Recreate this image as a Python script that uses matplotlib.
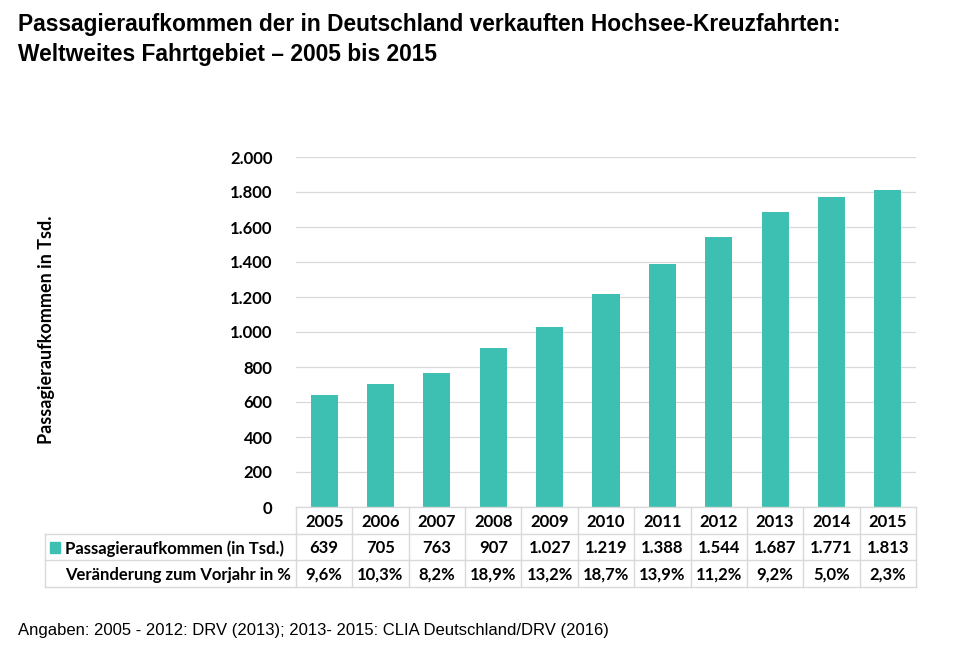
import matplotlib
matplotlib.use("Agg")
import matplotlib.pyplot as plt
from matplotlib.patches import Rectangle

years = ["2005", "2006", "2007", "2008", "2009", "2010", "2011", "2012", "2013", "2014", "2015"]
passengers = [639, 705, 763, 907, 1027, 1219, 1388, 1544, 1687, 1771, 1813]
passenger_labels = ["639", "705", "763", "907", "1.027", "1.219", "1.388", "1.544", "1.687", "1.771", "1.813"]
change_labels = ["9,6%", "10,3%", "8,2%", "18,9%", "13,2%", "18,7%", "13,9%", "11,2%", "9,2%", "5,0%", "2,3%"]
yticks = [0, 200, 400, 600, 800, 1000, 1200, 1400, 1600, 1800, 2000]
ytick_labels = ["0", "200", "400", "600", "800", "1.000", "1.200", "1.400", "1.600", "1.800", "2.000"]

TEAL = "#3dbfb1"
GRID = "#d9d9d9"
TFONT = ["Lato", "DejaVu Sans"]
FS = 12

W, H = 959, 661
fig = plt.figure(figsize=(W / 100, H / 100), dpi=100, facecolor="white")

def fx(px): return px / W
def fy(py): return 1 - py / H

# plot area in pixels
PL, PR, PT, PB = 296, 916, 157, 507
TB = 587
LBL = 45

ax = fig.add_axes([fx(PL), fy(PB), fx(PR) - fx(PL), fy(PT) - fy(PB)])
n = len(years)
xs = list(range(n))
ax.bar(xs, passengers, width=0.48, color=TEAL, zorder=3)
ax.set_xlim(-0.5, n - 0.5)
ax.set_ylim(0, 2000)
ax.set_yticks(yticks)
ax.set_yticklabels(ytick_labels, fontsize=FS, fontweight="bold", family=TFONT)
ax.tick_params(axis="y", length=0, pad=17)
ax.set_xticks([])
ax.yaxis.grid(True, color=GRID, lw=0.9, zorder=0)
for s in ax.spines.values():
    s.set_visible(False)

fig.text(fx(47), fy(330), "Passagieraufkommen in Tsd.", rotation=90,
         ha="center", va="center", fontsize=13, fontweight="bold", family=TFONT)

# table
colw = (PR - PL) / n
lblw = (PL - LBL) / colw
tax = fig.add_axes([fx(LBL), fy(TB), fx(PR) - fx(LBL), fy(PB) - fy(TB)])
tax.set_xlim(-0.5 - lblw, n - 0.5)
tax.set_ylim(3, 0)
tax.axis("off")

lk = dict(color=GRID, lw=1.0, clip_on=False)
tax.plot([-0.5, n - 0.5], [0, 0], **lk)
for r in [1, 2, 3]:
    tax.plot([-0.5 - lblw, n - 0.5], [r, r], **lk)
tax.plot([-0.5 - lblw, -0.5 - lblw], [1, 3], **lk)
for i in range(n + 1):
    tax.plot([i - 0.5, i - 0.5], [0, 3], **lk)

for i in range(n):
    tax.text(i, 0.55, years[i], ha="center", va="center", fontsize=FS,
             fontweight="bold", family=TFONT)
    tax.text(i, 1.55, passenger_labels[i], ha="center", va="center", fontsize=FS,
             fontweight="bold", family=TFONT)
    tax.text(i, 2.55, change_labels[i], ha="center", va="center", fontsize=FS,
             fontweight="bold", family=TFONT)

x0 = -0.5 - lblw
tax.add_patch(Rectangle((x0 + 0.08, 1.3), 0.19, 0.42, color=TEAL, clip_on=False))
tax.text(x0 + 0.35, 1.55, "Passagieraufkommen (in Tsd.)", ha="left", va="center",
         fontsize=FS, fontweight="bold", family=TFONT)
tax.text(x0 + 0.35, 2.55, "Veränderung zum Vorjahr in %", ha="left", va="center",
         fontsize=FS, fontweight="bold", family=TFONT)

fig.text(fx(18), fy(24), "Passagieraufkommen der in Deutschland verkauften Hochsee-Kreuzfahrten:",
         ha="left", va="center", fontsize=16.4, fontweight="bold", family="Liberation Sans")
fig.text(fx(18), fy(54), "Weltweites Fahrtgebiet \u2013 2005 bis 2015",
         ha="left", va="center", fontsize=16.4, fontweight="bold", family="Liberation Sans")
fig.text(fx(18), fy(631), "Angaben: 2005 - 2012: DRV (2013); 2013- 2015: CLIA Deutschland/DRV (2016)",
         ha="left", va="center", fontsize=12, family="Liberation Sans")

fig.savefig("out.png", dpi=100, facecolor="white")
